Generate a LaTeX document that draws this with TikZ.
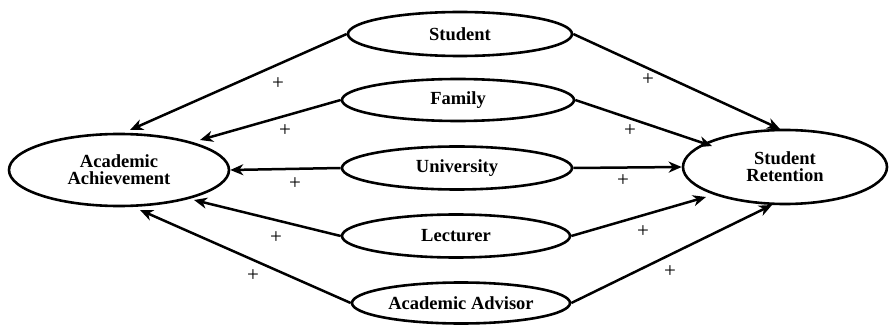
\documentclass[tikz,border=0pt]{standalone}
\usepackage{fontspec}
\setmainfont{Liberation Serif}
\usetikzlibrary{shapes.geometric,arrows.meta}
\begin{document}
\begin{tikzpicture}[x=1pt,y=-1pt,
  ell/.style={draw,ellipse,line width=2.6pt,inner sep=0pt,font=\fontsize{18.5}{17}\selectfont\bfseries,align=center},
  conn/.style={line width=2.5pt,-{Stealth[length=13pt,width=11pt,inset=4pt]}},
  plus/.style={font=\fontsize{21}{21}\selectfont}]
\useasboundingbox (0,0) rectangle (892,326);
\node[ell,minimum width=220pt,minimum height=72pt] (aa) at (119,170) {Academic\\Achievement};
\node[ell,minimum width=204pt,minimum height=74pt] (sr) at (785,167) {Student\\Retention};
\node[ell,minimum width=224pt,minimum height=44pt] (st) at (460,34) {Student};
\node[ell,minimum width=232pt,minimum height=42pt] (fa) at (458,100) {Family};
\node[ell,minimum width=230pt,minimum height=43pt] (un) at (457,168) {University};
\node[ell,minimum width=228pt,minimum height=43pt] (le) at (456,236) {Lecturer};
\node[ell,minimum width=218pt,minimum height=41pt] (ad) at (461,303) {Academic Advisor};
\coordinate (aa1) at (130,130);
\coordinate (aa2) at (200,140);
\coordinate (aa4) at (194,200);
\coordinate (aa5) at (140,210);
\coordinate (sr1) at (780,129);
\coordinate (sr2) at (712,146);
\coordinate (sr4) at (706,197);
\coordinate (sr5) at (772,205);
\draw[conn] (st.west) -- (aa1);
\draw[conn] (st.east) -- (sr1);
\draw[conn] (fa.west) -- (aa2);
\draw[conn] (fa.east) -- (sr2);
\draw[conn] (un.west) -- (aa.east);
\draw[conn] (un.east) -- (sr.west);
\draw[conn] (le.west) -- (aa4);
\draw[conn] (le.east) -- (sr4);
\draw[conn] (ad.west) -- (aa5);
\draw[conn] (ad.east) -- (sr5);
\node[plus] (p1) at (278,84) {+};
\node[plus] (p2) at (648,80) {+};
\node[plus] (p3) at (285,131) {+};
\node[plus] (p4) at (630,131) {+};
\node[plus] (p5) at (295,184) {+};
\node[plus] (p6) at (623,181) {+};
\node[plus] (p7) at (276,238) {+};
\node[plus] (p8) at (643,232) {+};
\node[plus] (p9) at (253,276) {+};
\node[plus] (p10) at (670,272) {+};
\end{tikzpicture}
\end{document}
